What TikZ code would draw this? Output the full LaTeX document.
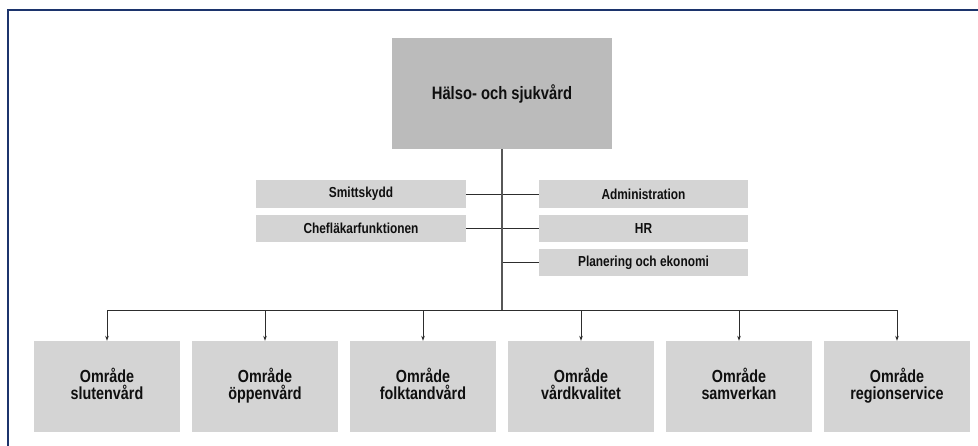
\documentclass[tikz,border=0pt]{standalone}
\usepackage{fontspec}
\setmainfont{Liberation Sans}[FakeStretch=0.82]
\usetikzlibrary{arrows.meta}
\definecolor{framecol}{RGB}{28,52,108}
\definecolor{headfill}{RGB}{187,187,187}
\definecolor{unitfill}{RGB}{212,212,212}
\definecolor{linecol}{RGB}{45,45,45}
\definecolor{txtcol}{RGB}{15,15,15}
\newcommand{\areafont}{\bfseries\fontsize{17.5}{16.5}\selectfont\lineskiplimit=-100pt\relax}
\newcommand{\twoline}[2]{\strut #1\\\strut #2}
\begin{document}
\begin{tikzpicture}[x=1pt,y=-1pt,
  box/.style={rectangle, inner sep=0pt, align=center, text=txtcol, font=\bfseries},
  headbox/.style={box, fill=headfill, minimum width=220pt, minimum height=111pt,
    font=\bfseries\fontsize{18}{17}\selectfont},
  staffbox/.style={box, fill=unitfill, minimum width=210pt, minimum height=27.5pt,
    font=\bfseries\fontsize{14.5}{15}\selectfont},
  areabox/.style={box, fill=unitfill, minimum width=146pt, minimum height=91pt,
    font=\areafont},
  link/.style={draw=linecol, line width=0.9pt},
  trunk/.style={draw=linecol!80, line width=1.4pt},
  down/.style={link, -{Stealth[length=5pt,width=3.6pt]}}
]
\useasboundingbox (0,0) rectangle (978,445);
% outer frame (left and top edges)
\draw[framecol, line width=2.2pt] (8,446) -- (8,10) -- (979,10);

% management
\node[headbox] (top) at (502,93.5) {Hälso- och sjukvård};

% staff functions
\node[staffbox] (smitt) at (361,194) {Smittskydd};
\node[staffbox] (chef) at (361,228.5) {Chefläkarfunktionen};
\node[staffbox, minimum width=209pt] (adm) at (643.5,194) {Administration};
\node[staffbox, minimum width=209pt] (hr) at (643.5,228.5) {HR};
\node[staffbox, minimum width=209pt] (plan) at (643.5,262.5) {Planering och ekonomi};

% areas
\node[areabox] (a1) at (107,386.5) {\twoline{Område}{slutenvård}};
\node[areabox] (a2) at (265,386.5) {\twoline{Område}{öppenvård}};
\node[areabox] (a3) at (423,386.5) {\twoline{Område}{folktandvård}};
\node[areabox] (a4) at (581,386.5) {\twoline{Område}{vårdkvalitet}};
\node[areabox] (a5) at (739,386.5) {\twoline{Område}{samverkan}};
\node[areabox] (a6) at (897,386.5) {\twoline{Område}{regionservice}};

\coordinate (bus) at (502,310);

% connectors
\draw[link] (smitt.east) -- (adm.west);
\draw[link] (chef.east) -- (hr.west);
\draw[link] (top.south |- plan.west) -- (plan.west);
\draw[trunk] (top.south) -- (bus);
\draw[link] (a1.north |- bus) -- (a6.north |- bus);
\foreach \a in {a1,a2,a3,a4,a5,a6}
  \draw[down] (\a.north |- bus) -- (\a.north);
\end{tikzpicture}
\end{document}
